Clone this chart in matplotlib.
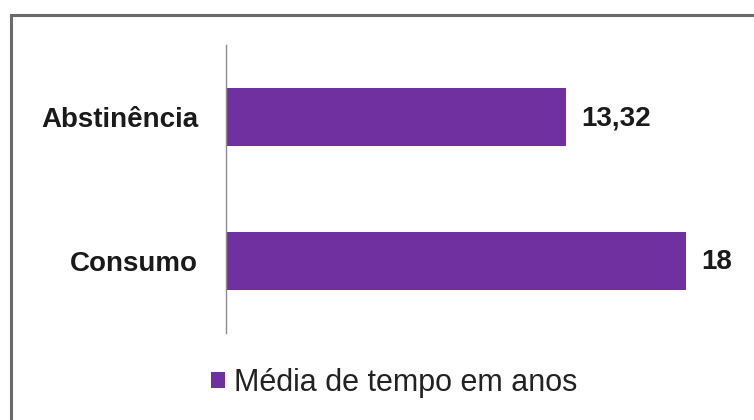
import matplotlib
matplotlib.use("Agg")
import matplotlib.pyplot as plt
from matplotlib.patches import Rectangle

# values (years), bottom-to-top order in the plot
categories = ["Consumo", "Abstinência"]
values = [18, 13.32]
value_labels = ["18", "13,32"]
series_name = "Média de tempo em anos"

BAR_COLOR = "#7030A0"
TEXT_COLOR = "#1a1a1a"

plt.rcParams["font.family"] = ["Liberation Sans", "DejaVu Sans"]

W, H = 754, 420
fig = plt.figure(figsize=(W / 100, H / 100), dpi=100)
fig.patch.set_facecolor("white")

# outer chart frame (runs off the right and bottom edges)
fig.patches.append(Rectangle((11 / W, -0.1), 1.2, 1 - 15 / H + 0.1,
                             transform=fig.transFigure, fill=False,
                             edgecolor="#6b6b6b", linewidth=2.2))

ax = fig.add_axes([226 / W, 87 / H, 511 / W, 288 / H])
bars = ax.barh(range(len(categories)), values, height=0.4, color=BAR_COLOR,
               label=series_name)
ax.set_xlim(0, 20)
ax.set_ylim(-0.5, 1.5)

ax.set_yticks(range(len(categories)))
ax.set_yticklabels(categories, fontsize=20, fontweight="bold", color=TEXT_COLOR)
ax.tick_params(axis="y", length=0, pad=20)
ax.set_xticks([])
for side in ["top", "right", "bottom"]:
    ax.spines[side].set_visible(False)
ax.spines["left"].set_color("#8c8c8c")
ax.spines["left"].set_linewidth(1.0)

for bar, txt in zip(bars, value_labels):
    ax.annotate(txt, (bar.get_width(), bar.get_y() + bar.get_height() / 2),
                xytext=(11, -1), textcoords="offset points", va="center",
                ha="left", fontsize=20, fontweight="bold", color=TEXT_COLOR)

fig.legend(handles=[bars], labels=[series_name], loc="center",
           bbox_to_anchor=(394 / W, 1 - 383 / H), frameon=False,
           fontsize=22, handlelength=0.46, handleheight=0.46,
           handletextpad=0.3, labelcolor="#222222")

fig.savefig("out.png", dpi=100)
